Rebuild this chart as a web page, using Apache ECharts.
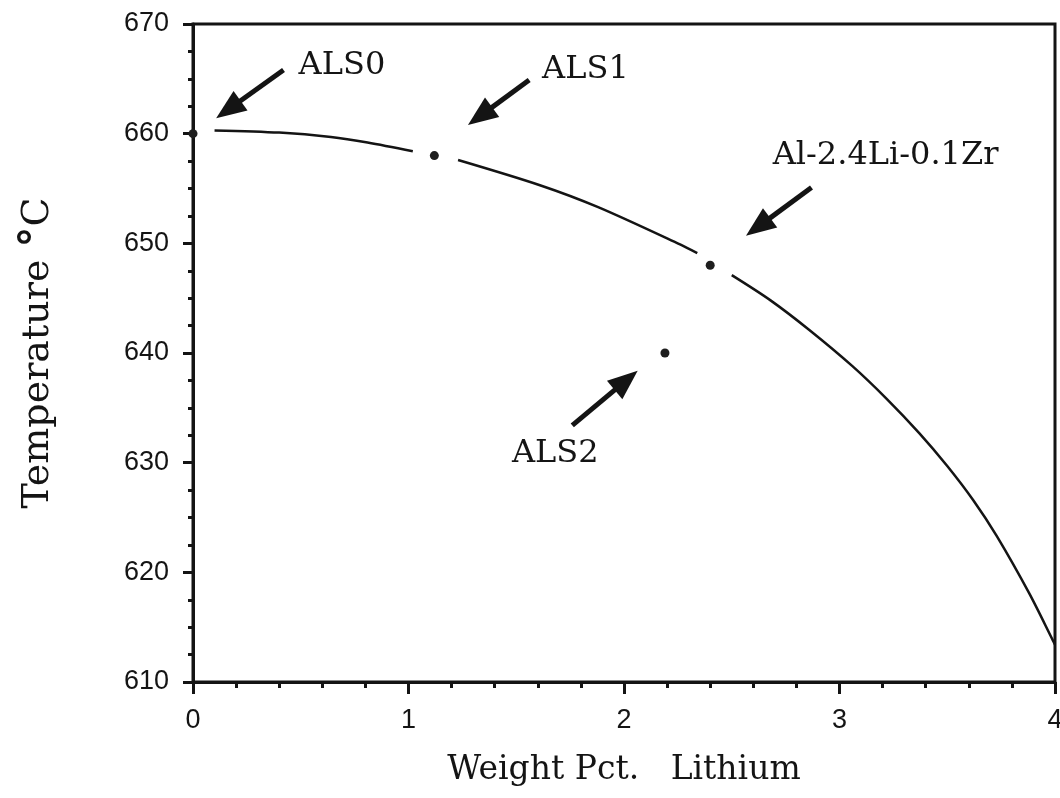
<!DOCTYPE html>
<html>
<head>
<meta charset="utf-8">
<script src="https://cdn.jsdelivr.net/npm/echarts@6/dist/echarts.min.js"></script>
<style>
html,body{margin:0;padding:0;background:#fff;}
#chart{width:1060px;height:798px;}
</style>
</head>
<body>
<div id="chart"></div>
<script>
// Liquidus curve (weight pct Li, temperature C); null marks the gaps around the alloy points
const curveX = [0.10, 0.40, 0.64, 0.81, 1.02, null, 1.23, 1.61, 1.88, 2.26, 2.34, null, 2.50, 2.68, 2.86, 3.06, 3.22, 3.37, 3.50, 3.62, 3.73, 3.88, 3.99, 4.00];
const curveY = [660.3, 660.1, 659.7, 659.2, 658.4, null, 657.6, 655.3, 653.3, 649.9, 649.1, null, 647.1, 644.8, 642.1, 638.8, 635.8, 632.7, 629.7, 626.6, 623.3, 618.1, 613.8, 613.4];

// Alloy points
const alloyNames = ['ALS0', 'ALS1', 'Al-2.4Li-0.1Zr', 'ALS2'];
const alloyLi = [0.0, 1.12, 2.40, 2.19];
const alloyTemp = [660, 658, 648, 640];

// Annotation label anchors (data coordinates)
const labelX = [0.49, 1.62, 2.69, 1.48];
const labelY = [666.2, 665.8, 658.0, 630.8];

// Arrow tails and arrow-head centres (data coordinates)
const arrowTailX = [0.42, 1.56, 2.87, 1.76];
const arrowTailY = [665.8, 664.9, 655.1, 633.4];
const arrowHeadX = [0.164, 1.332, 2.622, 2.010];
const arrowHeadY = [662.2, 661.6, 651.5, 637.5];

const xTicks = [0, 1, 2, 3, 4];
const yTicks = [610, 620, 630, 640, 650, 660, 670];

const ink = '#141414';
const curveData = curveX.map((x, i) => (x === null ? [null, null] : [x, curveY[i]]));
const pointData = alloyLi.map((x, i) => [x, alloyTemp[i]]);
const labelData = labelX.map((x, i) => ({ value: [x, labelY[i]], name: alloyNames[i] }));
const arrowData = arrowTailX.map((x, i) => [
  { coord: [x, arrowTailY[i]] },
  { coord: [arrowHeadX[i], arrowHeadY[i]] }
]);

const chart = echarts.init(document.getElementById('chart'));
chart.setOption({
  backgroundColor: '#ffffff',
  animation: false,
  grid: {
    left: 193, right: 5, top: 24, bottom: 116,
    outerBoundsMode: 'none', containLabel: false,
    show: true, borderColor: ink, borderWidth: 3, backgroundColor: 'transparent'
  },
  xAxis: {
    type: 'value', min: xTicks[0], max: xTicks[xTicks.length - 1], interval: 1,
    name: 'Weight Pct.   Lithium', nameLocation: 'middle', nameGap: 72,
    nameTextStyle: { fontFamily: 'DejaVu Serif', fontSize: 33, color: ink },
    axisLine: { show: true, lineStyle: { color: ink, width: 3 } },
    axisTick: { show: true, inside: false, length: 12, lineStyle: { color: ink, width: 3 } },
    minorTick: { show: true, splitNumber: 5, length: 6, lineStyle: { color: ink, width: 3 } },
    splitLine: { show: false },
    axisLabel: { margin: 25, fontFamily: 'Liberation Sans', fontSize: 27, color: ink,
      formatter: v => String(v) }
  },
  yAxis: {
    type: 'value', min: yTicks[0], max: yTicks[yTicks.length - 1], interval: 10,
    name: '{t|Temperature }{d|°}{t|C}', nameLocation: 'middle', nameGap: 134,
    nameTextStyle: {
      rich: {
        t: { fontFamily: 'DejaVu Serif', fontSize: 38, color: ink },
        d: { fontFamily: 'DejaVu Sans', fontSize: 42, fontWeight: 'bold', color: ink }
      }
    },
    axisLine: { show: true, lineStyle: { color: ink, width: 3 } },
    axisTick: { show: true, inside: false, length: 10, lineStyle: { color: ink, width: 3 } },
    minorTick: { show: true, splitNumber: 4, length: 5, lineStyle: { color: ink, width: 3 } },
    splitLine: { show: false },
    axisLabel: { margin: 24, fontFamily: 'Liberation Sans', fontSize: 27, color: ink }
  },
  series: [
    {
      name: 'Liquidus', type: 'line', data: curveData, connectNulls: false,
      smooth: 0.3, symbol: 'none', clip: false,
      lineStyle: { color: ink, width: 2.5 }
    },
    {
      name: 'Alloys', type: 'scatter', data: pointData, symbol: 'circle', symbolSize: 9,
      clip: false, itemStyle: { color: '#1e1e1e', opacity: 1 }, z: 5
    },
    {
      name: 'Labels', type: 'scatter', data: labelData, symbolSize: 0, clip: false,
      itemStyle: { opacity: 1 },
      label: {
        show: true, position: 'inside', align: 'left', verticalAlign: 'middle',
        formatter: p => p.name, opacity: 1,
        fontFamily: 'DejaVu Serif', fontSize: 32, color: ink
      },
      markLine: {
        silent: true, animation: false,
        symbol: ['none', 'triangle'], symbolSize: [24, 30],
        lineStyle: { color: ink, width: 5, type: 'solid', opacity: 1 },
        label: { show: false },
        data: arrowData
      }
    }
  ]
});
</script>
</body>
</html>
